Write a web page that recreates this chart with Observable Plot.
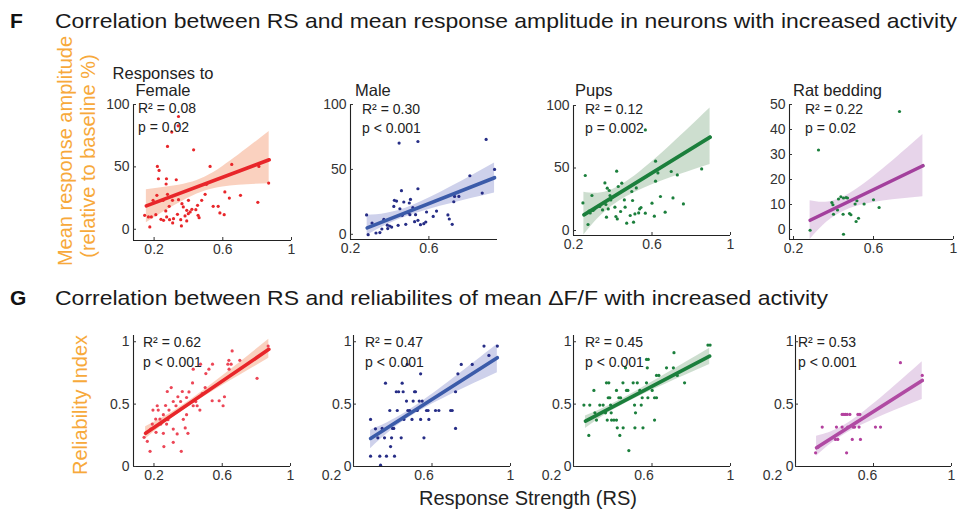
<!DOCTYPE html>
<html><head><meta charset="utf-8">
<script src="https://cdn.jsdelivr.net/npm/d3@7"></script>
<script src="https://cdn.jsdelivr.net/npm/@observablehq/plot@0.6"></script>
<style>
body{margin:0;background:#fff;}
#fig{position:relative;width:966px;height:512px;overflow:hidden;background:#fff;}
</style></head><body><div id="fig"></div>
<script>
// ---------- DATA ----------
const titleF = "Correlation between RS and mean response amplitude in neurons with increased activity";
const titleG = "Correlation between RS and reliabilites of mean \u0394F/F with increased activity";
const stimuli = ["Responses to\nFemale", "Male", "Pups", "Rat bedding"];
const statsF = [["R\u00b2 = 0.08","p = 0.02"],["R\u00b2 = 0.30","p < 0.001"],["R\u00b2 = 0.12","p = 0.002"],["R\u00b2 = 0.22","p = 0.02"]];
const statsG = [["R\u00b2 = 0.62","p < 0.001"],["R\u00b2 = 0.47","p < 0.001"],["R\u00b2 = 0.45","p < 0.001"],["R\u00b2 = 0.53","p < 0.001"]];
const yLabelF = ["Mean response amplitude", "(relative to baseline %)"];
const yLabelG = "Reliability Index";
const xLabel = "Response Strength (RS)";
const xTicks = [0.2, 0.6, 1];
const xTicksMale = [0.2, 0.6];
const yTicksAmp = [0, 50, 100];
const yTicksRat = [0, 10, 20, 30, 40, 50];
const yTicksRel = [0, 0.5, 1];

// scatter points [RS, value]
const femaleAmp = [[0.342,90.4],[0.340,82.9],[0.303,77.9],[0.278,66.4],[0.430,63.7],[0.219,50.4],[0.229,47.2],[0.225,40.5],[0.272,40.5],[0.329,39.7],[0.526,50.4],[0.652,52.0],[0.810,50.4],[0.867,37.0],[0.270,36.3],[0.505,36.0],[0.216,27.2],[0.278,28.0],[0.194,23.2],[0.342,23.7],[0.400,23.2],[0.497,28.0],[0.612,29.9],[0.703,27.2],[0.638,25.0],[0.362,20.5],[0.370,17.9],[0.390,15.2],[0.453,19.2],[0.477,23.2],[0.443,15.7],[0.544,18.4],[0.573,18.4],[0.583,13.1],[0.608,11.7],[0.804,21.6],[0.145,11.2],[0.167,9.9],[0.184,9.9],[0.210,11.7],[0.175,1.9],[0.268,14.7],[0.273,9.9],[0.290,7.7],[0.313,8.5],[0.255,7.2],[0.240,8.0],[0.308,5.1],[0.336,12.0],[0.355,7.7],[0.359,2.7],[0.380,10.7],[0.390,6.7],[0.399,12.5],[0.410,13.9],[0.456,11.2],[0.462,9.3],[0.288,18.4],[0.307,23.2],[0.253,23.2],[0.420,16.0]];
const maleAmp = [[0.448,70.3],[0.544,71.5],[0.892,73.1],[0.935,50.0],[0.809,45.1],[0.872,31.8],[0.460,33.6],[0.544,35.1],[0.282,14.9],[0.290,-0.3],[0.310,8.7],[0.330,1.0],[0.350,1.3],[0.360,4.1],[0.370,11.5],[0.390,4.4],[0.400,6.4],[0.410,5.6],[0.421,21.5],[0.424,26.2],[0.435,25.6],[0.452,19.7],[0.443,6.9],[0.464,14.6],[0.472,24.9],[0.482,7.7],[0.494,16.7],[0.503,15.1],[0.506,26.9],[0.500,24.1],[0.518,20.5],[0.532,15.1],[0.527,9.7],[0.544,10.8],[0.557,7.4],[0.574,8.2],[0.584,9.5],[0.588,17.2],[0.622,13.8],[0.639,17.9],[0.697,14.9],[0.704,11.8],[0.719,7.7],[0.727,25.1],[0.731,29.2],[0.753,29.2],[0.388,7.0]];
const pupsAmp = [[0.566,80.5],[0.260,44.0],[0.248,22.1],[0.274,4.8],[0.294,28.0],[0.279,15.5],[0.308,17.3],[0.334,19.2],[0.348,16.5],[0.360,38.1],[0.372,33.9],[0.382,32.0],[0.386,28.0],[0.365,20.8],[0.368,10.7],[0.377,17.3],[0.390,24.5],[0.411,18.7],[0.416,11.2],[0.423,9.3],[0.420,47.5],[0.428,35.2],[0.446,37.9],[0.440,15.2],[0.463,18.7],[0.459,24.5],[0.471,5.9],[0.489,12.0],[0.497,31.2],[0.501,24.0],[0.506,6.7],[0.513,13.3],[0.520,34.1],[0.532,14.1],[0.537,17.3],[0.544,18.4],[0.566,13.9],[0.618,55.5],[0.618,39.5],[0.600,21.9],[0.612,11.5],[0.643,27.2],[0.667,14.7],[0.698,47.2],[0.707,26.1],[0.729,44.5],[0.760,21.3],[0.853,49.3],[0.896,74.7],[0.630,46.1],[0.285,14.0],[0.300,16.0]];
const ratAmp = [[0.730,47.2],[0.325,31.8],[0.283,-0.3],[0.392,10.8],[0.397,9.9],[0.400,6.1],[0.420,7.8],[0.425,12.2],[0.437,13.1],[0.450,12.6],[0.463,12.8],[0.470,12.6],[0.448,6.1],[0.450,-1.9],[0.480,6.4],[0.487,5.9],[0.508,10.2],[0.517,11.5],[0.513,3.2],[0.525,4.5],[0.553,10.2],[0.600,11.9],[0.628,8.8],[0.847,25.5]];
const femaleRel = [[0.869,0.965],[0.658,0.926],[0.703,0.851],[0.639,0.851],[0.652,0.820],[0.633,0.820],[0.640,0.780],[0.543,0.820],[0.522,0.780],[0.473,0.820],[0.504,0.745],[0.430,0.780],[0.426,0.670],[0.500,0.633],[0.483,0.585],[0.541,0.527],[0.582,0.527],[0.613,0.559],[0.605,0.487],[0.804,0.707],[0.301,0.633],[0.278,0.601],[0.366,0.601],[0.340,0.559],[0.405,0.598],[0.391,0.553],[0.356,0.521],[0.313,0.521],[0.329,0.487],[0.268,0.489],[0.219,0.487],[0.194,0.452],[0.225,0.452],[0.288,0.452],[0.255,0.415],[0.235,0.380],[0.210,0.380],[0.190,0.340],[0.181,0.300],[0.240,0.340],[0.274,0.340],[0.282,0.375],[0.313,0.300],[0.255,0.266],[0.212,0.274],[0.336,0.261],[0.399,0.266],[0.391,0.415],[0.372,0.378],[0.383,0.309],[0.430,0.487],[0.453,0.487],[0.469,0.452],[0.142,0.234],[0.161,0.202],[0.177,0.122],[0.258,0.160],[0.313,0.194],[0.360,0.122],[0.445,0.520]];
const maleRel = [[0.287,0.377],[0.287,0.083],[0.312,0.302],[0.324,0.230],[0.334,0.083],[0.338,0.011],[0.346,0.305],[0.358,0.230],[0.363,0.668],[0.368,0.083],[0.385,0.449],[0.389,0.160],[0.394,0.230],[0.399,0.305],[0.409,0.083],[0.418,0.599],[0.423,0.449],[0.443,0.230],[0.448,0.668],[0.453,0.599],[0.457,0.377],[0.470,0.524],[0.477,0.449],[0.486,0.449],[0.498,0.377],[0.504,0.524],[0.511,0.599],[0.516,0.599],[0.525,0.449],[0.535,0.524],[0.542,0.743],[0.542,0.377],[0.550,0.524],[0.559,0.230],[0.572,0.449],[0.580,0.449],[0.584,0.377],[0.474,0.818],[0.618,0.449],[0.635,0.449],[0.695,0.449],[0.703,0.449],[0.720,0.305],[0.732,0.743],[0.720,0.599],[0.749,0.818],[0.805,0.818],[0.865,0.965],[0.890,0.890],[0.933,0.965],[0.430,0.599],[0.405,0.305]];
const pupsRel = [[0.253,0.492],[0.283,0.492],[0.278,0.249],[0.304,0.610],[0.309,0.430],[0.317,0.372],[0.334,0.492],[0.351,0.492],[0.363,0.430],[0.368,0.671],[0.380,0.671],[0.372,0.372],[0.377,0.551],[0.385,0.551],[0.389,0.492],[0.392,0.430],[0.394,0.372],[0.406,0.372],[0.419,0.372],[0.419,0.610],[0.423,0.310],[0.431,0.551],[0.440,0.551],[0.436,0.249],[0.452,0.671],[0.453,0.310],[0.465,0.791],[0.470,0.610],[0.477,0.610],[0.482,0.128],[0.504,0.671],[0.511,0.492],[0.516,0.430],[0.513,0.310],[0.525,0.671],[0.538,0.610],[0.545,0.492],[0.550,0.551],[0.554,0.310],[0.572,0.671],[0.572,0.858],[0.581,0.858],[0.576,0.791],[0.579,0.551],[0.601,0.610],[0.613,0.551],[0.623,0.551],[0.613,0.372],[0.623,0.730],[0.635,0.730],[0.674,0.791],[0.709,0.791],[0.712,0.912],[0.729,0.730],[0.766,0.671],[0.885,0.973],[0.896,0.973]];
const ratRel = [[0.303,0.110],[0.315,0.155],[0.337,0.316],[0.405,0.217],[0.417,0.217],[0.410,0.316],[0.439,0.417],[0.448,0.417],[0.456,0.417],[0.465,0.417],[0.439,0.316],[0.462,0.110],[0.468,0.316],[0.479,0.417],[0.491,0.217],[0.496,0.316],[0.503,0.316],[0.520,0.417],[0.530,0.417],[0.526,0.316],[0.533,0.217],[0.610,0.316],[0.636,0.316],[0.738,0.832],[0.850,0.730],[0.850,0.690]];

// fitted lines [RS, value] and confidence bands [RS, low, high]
const femaleAmpFit = [[0.155,18.7],[0.870,55.7]];
const femaleAmpBand = [[0.155,5.3,31.7],[0.40,25.0,37.0],[0.60,33.9,50.4],[0.870,36.5,78.4]];
const maleAmpFit = [[0.285,4.9],[0.935,43.6]];
const maleAmpBand = [[0.285,-0.8,14.6],[0.52,15.4,22.4],[0.935,31.8,54.9]];
const pupsAmpFit = [[0.253,12.5],[0.896,74.7]];
const pupsAmpBand = [[0.253,-3.5,30.7],[0.47,27.0,39.0],[0.896,52.8,98.1]];
const ratAmpFit = [[0.283,3.7],[0.847,25.5]];
const ratAmpBand = [[0.283,-4.0,11.5],[0.48,8.3,14.3],[0.847,13.1,38.0]];
const femaleRelFit = [[0.151,0.266],[0.873,0.939]];
const femaleRelBand = [[0.151,0.221,0.319],[0.42,0.495,0.539],[0.873,0.867,1.019]];
const maleRelFit = [[0.287,0.225],[0.933,0.872]];
const maleRelBand = [[0.287,0.142,0.289],[0.52,0.428,0.488],[0.933,0.751,0.979]];
const pupsRelFit = [[0.261,0.364],[0.894,0.885]];
const pupsRelBand = [[0.261,0.305,0.404],[0.48,0.519,0.569],[0.894,0.818,0.947]];
const ratRelFit = [[0.308,0.150],[0.850,0.690]];
const ratRelBand = [[0.308,0.083,0.243],[0.50,0.300,0.380],[0.850,0.537,0.840]];

// ---------- STYLE / LAYOUT ----------
const FONT = '"Liberation Sans", Arial, Helvetica, sans-serif';
const ORANGE = "#f7a93b";
const C = {
  red:   {dot:"#e8262a", line:"#e8262a", band:"#f9c9b4"},
  redG:  {dot:"#ec4656", line:"#e8262a", band:"#f9c9b4"},
  blue:  {dot:"#262d86", line:"#3b5ba9", band:"#c6c9e7"},
  green: {dot:"#1b7f3c", line:"#1b7f3c", band:"#c4d8c7"},
  ratF:  {dot:"#1b7f3c", line:"#a3409d", band:"#e3cde6"},
  ratG:  {dot:"#b3409e", line:"#b04aa3", band:"#e3cde6"}
};
const fig = document.getElementById("fig");

function panel(p) {
  const ml = 40, mr = 14, mt = 6, mb = 30;
  const width = p.R - p.L + ml + mr, height = p.B - p.T + mt + mb;
  const pts = p.pts.map(([x, y]) => ({x, y}));
  const fit = p.fit.map(([x, y]) => ({x, y}));
  const band = p.band.map(([x, lo, hi]) => ({x, lo, hi}));
  const fmt = d => String(d);
  const dxs = p.xdx || p.xticks.map(() => 0);
  const marks = [
    Plot.areaY(band, {x: "x", y1: "lo", y2: "hi", fill: p.c.band, fillOpacity: 0.85, curve: "natural"}),
    Plot.dot(pts, {x: "x", y: "y", r: 1.6, fill: p.c.dot, stroke: "none"}),
    Plot.line(fit, {x: "x", y: "y", stroke: p.c.line, strokeWidth: 3.6}),
    Plot.ruleX([p.xd[0]], {stroke: "#222", strokeWidth: 1.1}),
    Plot.ruleY([p.yd[0]], {stroke: "#222", strokeWidth: 1.1}),
    Plot.axisY({ticks: p.yticks, tickSize: 0, tickPadding: p.ypad || 4, tickFormat: fmt, label: null}),
    Plot.axisY({ticks: p.yticks, tickSize: -3, tickFormat: () => "", label: null}),
    Plot.axisX({ticks: p.xticks.filter(t => t >= p.xd[0] && t <= p.xd[1]), tickSize: -3, tickFormat: () => "", label: null}),
    ...p.xticks.map((t, i) => Plot.axisX({ticks: [t], tickSize: 0, tickPadding: 4, dx: dxs[i], tickFormat: fmt, label: null}))
  ];
  const svg = Plot.plot({
    width, height, marginLeft: ml, marginRight: mr, marginTop: mt, marginBottom: mb,
    x: {domain: p.xd}, y: {domain: p.yd},
    style: {fontFamily: FONT, fontSize: "14px", color: "#333", background: "transparent", overflow: "visible"},
    marks
  });
  svg.style.position = "absolute";
  svg.style.left = (p.L - ml) + "px";
  svg.style.top = (p.T - mt) + "px";
  svg.style.maxWidth = "none";
  fig.appendChild(svg);
}

function txt(s, x, y, o = {}) {
  const d = document.createElement("div");
  d.textContent = s;
  d.style.cssText = `position:absolute;left:${x}px;top:${y}px;white-space:pre;line-height:1;font-family:${o.family || FONT};font-size:${o.size || 14}px;color:${o.color || "#222"};font-weight:${o.weight || 400};text-align:${o.align || "left"};transform-origin:${o.origin || "0 50%"};transform:${o.transform || "translateY(-50%)"}`;
  fig.appendChild(d);
  if (o.fitWidth) {
    const w = d.getBoundingClientRect().width;
    d.style.transform = `translateY(-50%) scaleX(${o.fitWidth / w})`;
  }
  return d;
}

// ---------- PANELS ----------
const rowF = [
  {pts: femaleAmp, fit: femaleAmpFit, band: femaleAmpBand, c: C.red,   L:133, R:291, T:104, B:240, xd:[0.08,1],   yd:[-9,100], xticks: xTicks,     yticks: yTicksAmp},
  {pts: maleAmp,   fit: maleAmpFit,   band: maleAmpBand,   c: C.blue,  L:350, R:497, T:104, B:239, xd:[0.2,0.95], yd:[-4,100], xticks: xTicksMale, yticks: yTicksAmp},
  {pts: pupsAmp,   fit: pupsAmpFit,   band: pupsAmpBand,   c: C.green, L:573, R:730, T:105, B:235, xd:[0.2,1],    yd:[-4,100], xticks: xTicks,     yticks: yTicksAmp},
  {pts: ratAmp,    fit: ratAmpFit,    band: ratAmpBand,    c: C.ratF,  L:789, R:953, T:104, B:239, xd:[0.18,1],   yd:[-4,50],  xticks: xTicks,     yticks: yTicksRat}
];
const rowG = [
  {pts: femaleRel, fit: femaleRelFit, band: femaleRelBand, c: C.redG,  L:133, R:290, T:335, B:466, xd:[0.08,1], yd:[0,1.05], xticks: xTicks, yticks: yTicksRel},
  {pts: maleRel,   fit: maleRelFit,   band: maleRelBand,   c: C.blue,  L:353, R:510, T:335, B:466, xd:[0.2,1],  yd:[0,1.05], xticks: xTicks, yticks: yTicksRel, xdx:[-22,-8,0], ypad: 2},
  {pts: pupsRel,   fit: pupsRelFit,   band: pupsRelBand,   c: C.green, L:573, R:730, T:335, B:466, xd:[0.2,1],  yd:[0,1.05], xticks: xTicks, yticks: yTicksRel, xdx:[-22,-8,0], ypad: 2},
  {pts: ratRel,    fit: ratRelFit,    band: ratRelBand,    c: C.ratG,  L:795, R:951, T:335, B:466, xd:[0.2,1],  yd:[0,1.05], xticks: xTicks, yticks: yTicksRel, xdx:[-23,-6,0], ypad: 2}
];
rowF.forEach(panel);
rowG.forEach(panel);

// ---------- TEXT ----------
txt("F", 10, 20, {size: 21, weight: 700, color: "#111"});
txt(titleF, 55, 20, {size: 21, color: "#1a1a1a", fitWidth: 902});
txt("G", 10, 297, {size: 21, weight: 700, color: "#111"});
txt(titleG, 55, 297, {size: 21, color: "#1a1a1a", fitWidth: 773});

// stimulus titles
txt(stimuli[0], 163, 81, {size: 16.5, align: "center", transform: "translate(-50%,-50%)"});
txt(stimuli[1], 355, 90, {size: 16.5});
txt(stimuli[2], 575, 90, {size: 16.5});
txt(stimuli[3], 793, 90, {size: 16.5});

// stats
const statF = [[138,108],[362,109],[585,109],[805,109]];
const statG = [[143,342],[365,342],[585,342],[798,342]];
statsF.forEach((s, i) => { txt(s[0], statF[i][0], statF[i][1]); txt(s[1], statF[i][0], statF[i][1] + 19); });
statsG.forEach((s, i) => { txt(s[0], statG[i][0], statG[i][1]); txt(s[1], statG[i][0], statG[i][1] + 20); });

// axis titles
const rot = "translate(-50%,-50%) rotate(-90deg)";
txt(yLabelF[0], 65, 151, {size: 20, color: ORANGE, origin: "50% 50%", transform: rot});
txt(yLabelF[1], 88, 156, {size: 20, color: ORANGE, origin: "50% 50%", transform: rot});
txt(yLabelG, 80, 405, {size: 20, color: ORANGE, origin: "50% 50%", transform: rot});
txt(xLabel, 528, 498, {size: 20, color: "#222", transform: "translate(-50%,-50%)"});
</script></body></html>
